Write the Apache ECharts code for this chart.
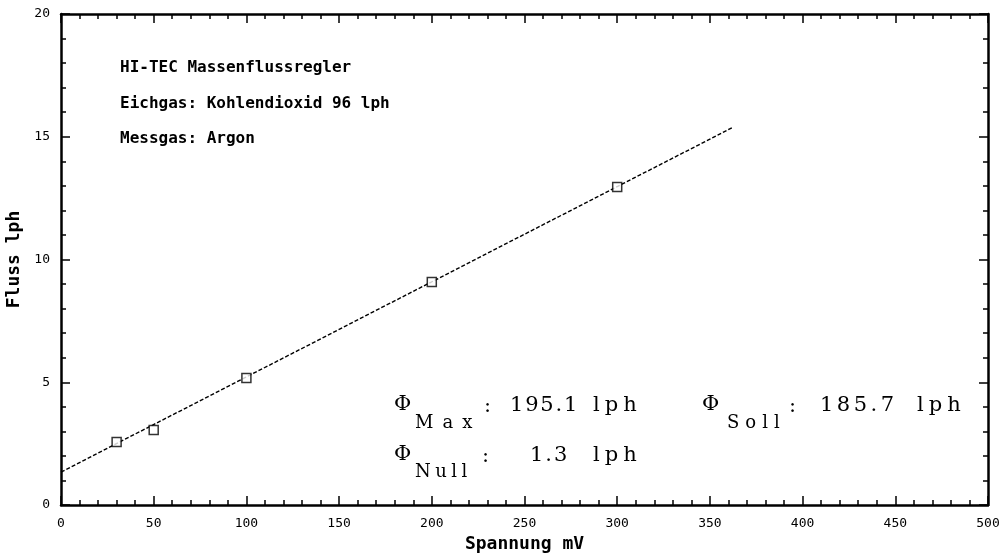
<!DOCTYPE html>
<html>
<head>
<meta charset="utf-8">
<style>
  html, body { margin: 0; padding: 0; background: #fff; }
  #chart { width: 1001px; height: 553px; }
</style>
<script src="https://cdn.jsdelivr.net/npm/echarts@6/dist/echarts.min.js"></script>
</head>
<body>
<div id="chart"></div>
<script>
// Messpunkte
const spannung = [30, 50, 100, 200, 300];
const fluss = [2.57, 3.05, 5.17, 9.08, 12.95];
// Ausgleichsgerade
const fitSpannung = [0, 362];
const fitFluss = [1.34, 15.37];

const infoLines = ['HI-TEC Massenflussregler', 'Eichgas: Kohlendioxid 96 lph', 'Messgas: Argon'];

const mono = '"DejaVu Sans Mono", monospace';
const serif = '"DejaVu Serif", serif';

const chart = echarts.init(document.getElementById('chart'));

const axisBase = {
  type: 'value',
  axisLine: { show: true, onZero: false, lineStyle: { color: '#000', width: 2.5 } },
  axisTick: { show: true, inside: true, length: 9, lineStyle: { color: '#000', width: 1.5 } },
  minorTick: { show: true, splitNumber: 5, length: 5, lineStyle: { color: '#000', width: 1.5 } },
  splitLine: { show: false }
};

// gesperrter Text (Zeichen einzeln gesetzt)
const ctx = document.createElement('canvas').getContext('2d');
const spaced = (str, x, y, size, gap) => {
  const font = size + 'px ' + serif;
  ctx.font = font;
  const out = [];
  let cx = x;
  for (const ch of str) {
    out.push({ type: 'text', x: cx, y: y, style: { text: ch, font: font, fill: '#000', verticalAlign: 'middle' } });
    cx += ctx.measureText(ch).width + gap;
  }
  return out;
};

const annot = [
  ...spaced('Φ', 394, 405, 21, 0), ...spaced('Max', 415, 423, 18, 9),
  ...spaced(':', 484, 407, 21, 0), ...spaced('195.1', 510, 406, 21, 1.8), ...spaced('lph', 593, 406, 21, 5),
  ...spaced('Φ', 702, 405, 21, 0), ...spaced('Soll', 727, 423, 18, 6),
  ...spaced(':', 789, 407, 21, 0), ...spaced('185.7', 820, 406, 21, 3.5), ...spaced('lph', 917, 406, 21, 5),
  ...spaced('Φ', 394, 455, 21, 0), ...spaced('Null', 415, 472, 18, 4.5),
  ...spaced(':', 482, 457, 21, 0), ...spaced('1.3', 530, 456, 21, 2), ...spaced('lph', 593, 456, 21, 5)
];

chart.setOption({
  animation: false,
  backgroundColor: '#fff',
  grid: { left: 61, right: 13, top: 14, bottom: 48, outerBoundsMode: 'none', containLabel: false },
  xAxis: [
    {
      ...axisBase, position: 'bottom', min: 0, max: 500, interval: 50,
      name: 'Spannung mV', nameLocation: 'middle', nameGap: 29,
      nameTextStyle: { fontFamily: mono, fontSize: 18, fontWeight: 'bold', color: '#000' },
      axisLabel: { fontFamily: mono, fontSize: 13, color: '#000', margin: 12 }
    },
    { ...axisBase, position: 'top', min: 0, max: 500, interval: 50, axisLabel: { show: false } }
  ],
  yAxis: [
    {
      ...axisBase, position: 'left', min: 0, max: 20, interval: 5,
      name: 'Fluss lph', nameLocation: 'middle', nameGap: 32,
      nameTextStyle: { fontFamily: mono, fontSize: 18, fontWeight: 'bold', color: '#000' },
      axisLabel: { fontFamily: mono, fontSize: 13, color: '#000', margin: 11 }
    },
    { ...axisBase, position: 'right', min: 0, max: 20, interval: 5, axisLabel: { show: false } }
  ],
  graphic: [
    ...infoLines.map((t, i) => ({
      type: 'text', x: 120, y: 68 + i * 35.5,
      style: { text: t, font: 'bold 16px ' + mono, fill: '#000', verticalAlign: 'middle' }
    })),
    ...annot
  ],
  series: [
    {
      type: 'line',
      data: fitSpannung.map((x, i) => [x, fitFluss[i]]),
      showSymbol: false,
      lineStyle: { color: '#000', width: 1.4, type: [4, 2] },
      z: 2
    },
    {
      type: 'scatter',
      data: spannung.map((x, i) => [x, fluss[i]]),
      symbol: 'rect',
      symbolSize: 9,
      itemStyle: { color: '#fff', borderColor: '#000', borderWidth: 1.5 },
      z: 3
    }
  ]
});
</script>
</body>
</html>
